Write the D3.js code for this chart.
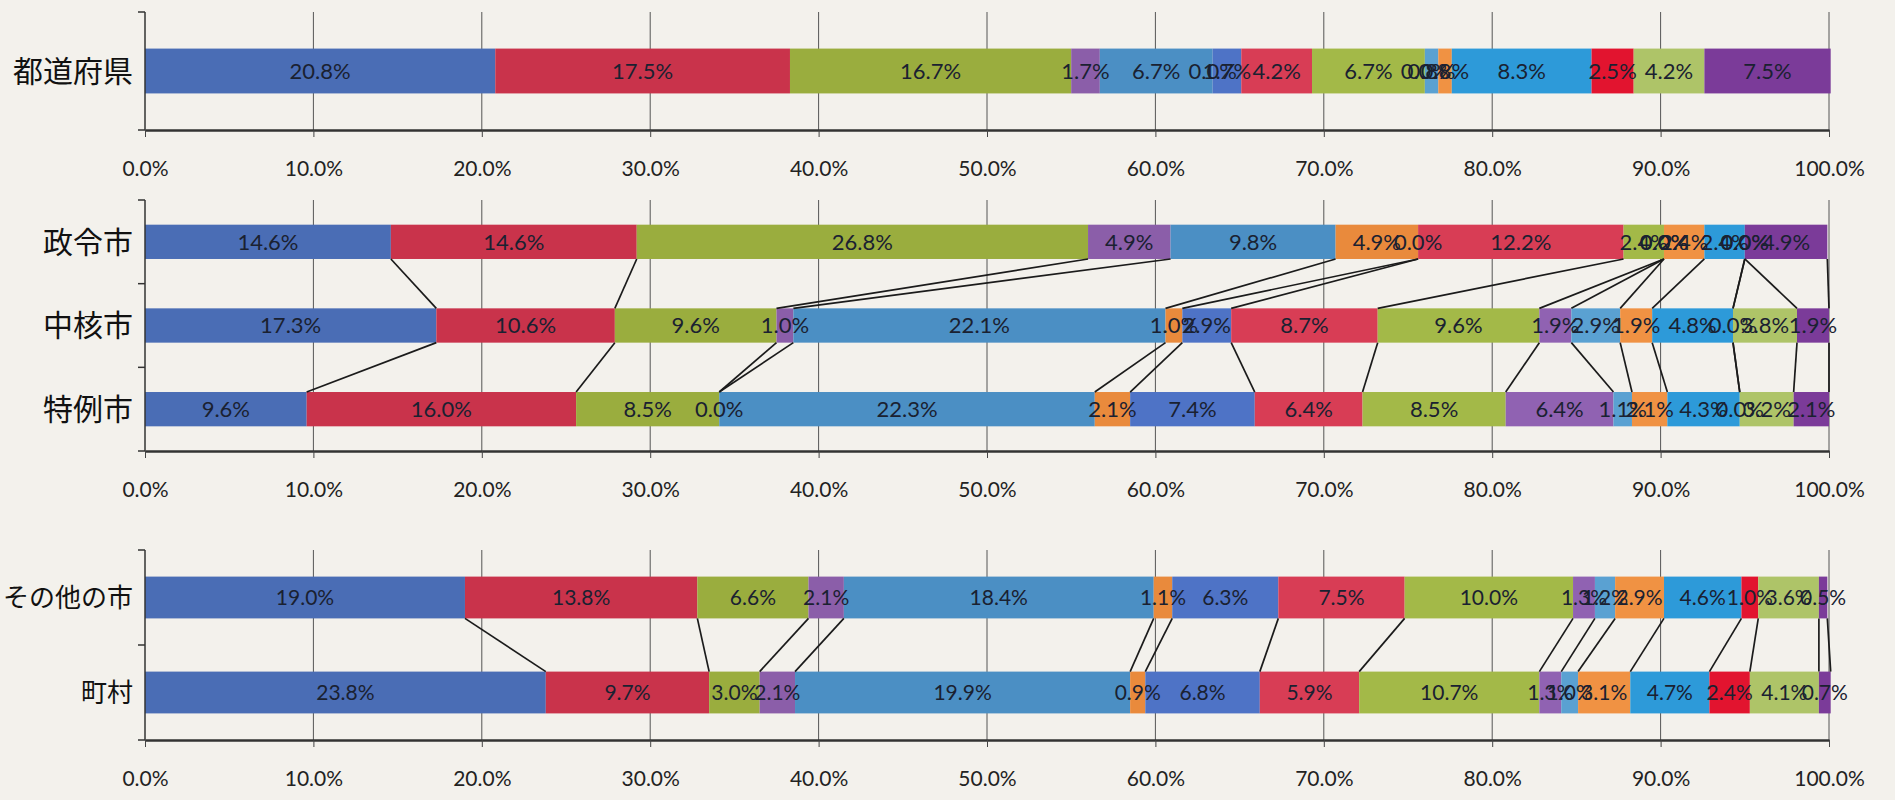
<!doctype html>
<html>
<head>
<meta charset="utf-8">
<title>団体区分別 構成比</title>
<script src="https://cdnjs.cloudflare.com/ajax/libs/d3/7.8.5/d3.min.js"></script>
<style>
  body { margin: 0; background: #f3f1ec; }
  svg { display: block; }
</style>
</head>
<body>
<svg width="1895" height="800"></svg>
<script>
// 16 series, same order in every bar
var seriesColors = ["#4a6db5", "#c9334b", "#9aad3e", "#8b5ea9", "#4b8fc4", "#e98a3c",
                    "#4e73c6", "#d83d55", "#a3b948", "#9062b2", "#5aa1d2", "#f09243",
                    "#2d9ad9", "#e2142f", "#aec468", "#7b3b99"];
var tickValues = [0, 10, 20, 30, 40, 50, 60, 70, 80, 90, 100];

var prefCats = ["都道府県"];
var prefValues = [20.8, 17.5, 16.7, 1.7, 6.7, 0.0, 1.7, 4.2, 6.7, 0.0, 0.8, 0.8, 8.3, 2.5, 4.2, 7.5];

var cityCats = ["政令市", "中核市", "特例市"];
var seireiValues = [14.6, 14.6, 26.8, 4.9, 9.8, 4.9, 0.0, 12.2, 2.4, 0.0, 0.0, 2.4, 2.4, 0.0, 0.0, 4.9];
var chukakuValues = [17.3, 10.6, 9.6, 1.0, 22.1, 1.0, 2.9, 8.7, 9.6, 1.9, 2.9, 1.9, 4.8, 0.0, 3.8, 1.9];
var tokureiValues = [9.6, 16.0, 8.5, 0.0, 22.3, 2.1, 7.4, 6.4, 8.5, 6.4, 1.1, 2.1, 4.3, 0.0, 3.2, 2.1];

var townCats = ["その他の市", "町村"];
var otherCityValues = [19.0, 13.8, 6.6, 2.1, 18.4, 1.1, 6.3, 7.5, 10.0, 1.3, 1.2, 2.9, 4.6, 1.0, 3.6, 0.5];
var villageValues = [23.8, 9.7, 3.0, 2.1, 19.9, 0.9, 6.8, 5.9, 10.7, 1.3, 1.0, 3.1, 4.7, 2.4, 4.1, 0.7];

var panels = [
  { cats: prefCats, values: [prefValues], top: 12, bottom: 130, pad: 0.62, catFont: 30, labelFont: 22 },
  { cats: cityCats, values: [seireiValues, chukakuValues, tokureiValues], top: 200, bottom: 451, pad: 0.59, catFont: 30, labelFont: 22 },
  { cats: townCats, values: [otherCityValues, villageValues], top: 550, bottom: 740, pad: 0.56, catFont: 26, labelFont: 21 }
];

var svg = d3.select("svg");
var x = d3.scaleLinear().domain([0, 100]).range([145, 1829]);
var keys = d3.range(seriesColors.length);
var fmt = d3.format(".1f");

panels.forEach(function(p) {
  var y = d3.scaleBand().domain(p.cats).range([p.top, p.bottom])
      .paddingInner(p.pad).paddingOuter(p.pad / 2);
  var bw = y.bandwidth();
  var g = svg.append("g");

  // rows for the stack
  var rows = p.cats.map(function(c, i) {
    var r = { cat: c };
    keys.forEach(function(k) { r[k] = p.values[i][k]; });
    return r;
  });
  var stacked = d3.stack().keys(keys)(rows);

  // vertical gridlines
  g.selectAll(".grid").data(tickValues.slice(1)).join("line")
    .attr("x1", function(d) { return x(d); }).attr("x2", function(d) { return x(d); })
    .attr("y1", p.top).attr("y2", p.bottom)
    .attr("stroke", "#555").attr("stroke-width", 1);

  // bars
  var layer = g.selectAll(".layer").data(stacked).join("g")
    .attr("fill", function(d) { return seriesColors[d.key]; });
  layer.selectAll("rect").data(function(d) { return d; }).join("rect")
    .attr("x", function(d) { return x(d[0]); })
    .attr("width", function(d) { return x(d[1]) - x(d[0]); })
    .attr("y", function(d) { return y(d.data.cat); })
    .attr("height", bw);

  // series lines between neighbouring bars
  stacked.forEach(function(s) {
    for (var i = 0; i < s.length - 1; i++) {
      g.append("line")
        .attr("x1", x(s[i][1])).attr("y1", y(p.cats[i]) + bw)
        .attr("x2", x(s[i + 1][1])).attr("y2", y(p.cats[i + 1]))
        .attr("stroke", "#1b1b1b").attr("stroke-width", 1.7);
    }
  });

  // data labels
  stacked.forEach(function(s) {
    g.selectAll(null).data(s).join("text")
      .attr("x", function(d) { return (x(d[0]) + x(d[1])) / 2; })
      .attr("y", function(d) { return y(d.data.cat) + bw / 2; })
      .attr("dy", "0.36em")
      .attr("text-anchor", "middle")
      .style("font-family", "Lato, 'Open Sans', sans-serif")
      .style("font-size", p.labelFont + "px")
      .attr("fill", "#1a2131")
      .text(function(d) { return fmt(d[1] - d[0]) + "%"; });
  });

  // left axis with ticks between categories
  var step = (p.bottom - p.top) / p.cats.length;
  g.append("line").attr("x1", x(0)).attr("x2", x(0)).attr("y1", p.top).attr("y2", p.bottom)
    .attr("stroke", "#333").attr("stroke-width", 1.5);
  g.selectAll(".ytick").data(d3.range(p.cats.length + 1)).join("line")
    .attr("x1", x(0) - 7).attr("x2", x(0))
    .attr("y1", function(i) { return p.top + i * step; })
    .attr("y2", function(i) { return p.top + i * step; })
    .attr("stroke", "#333").attr("stroke-width", 1.5);

  // category names
  g.selectAll(".cat").data(p.cats).join("text")
    .attr("x", 133)
    .attr("y", function(d) { return y(d) + bw / 2; })
    .attr("dy", "0.36em")
    .attr("text-anchor", "end")
    .style("font-family", "'Noto Sans CJK JP', sans-serif")
    .style("font-size", p.catFont + "px")
    .attr("fill", "#111")
    .text(function(d) { return d; });

  // bottom axis
  var axis = g.append("g")
    .attr("transform", "translate(0," + p.bottom + ")")
    .call(d3.axisBottom(x).tickValues(tickValues).tickSize(7).tickSizeOuter(0).tickPadding(24)
      .tickFormat(function(d) { return fmt(d) + "%"; }));
  axis.select(".domain").attr("stroke", "#333").attr("stroke-width", 2.5);
  axis.selectAll(".tick line").attr("stroke", "#444");
  axis.selectAll("text")
    .style("font-family", "Lato, 'Open Sans', sans-serif")
    .style("font-size", "21px")
    .attr("fill", "#222");
});
</script>
</body>
</html>
